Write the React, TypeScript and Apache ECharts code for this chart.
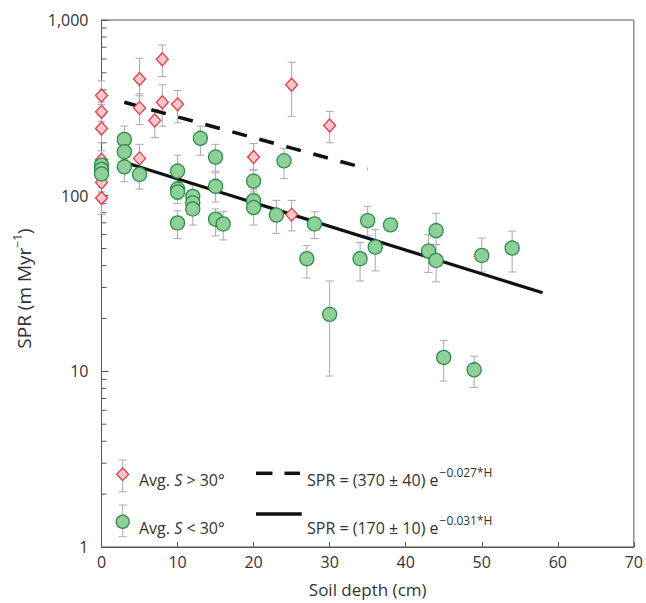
import React, { useEffect, useRef } from "react";
import * as echarts from "echarts";

// ---- data ----
const steepX = [0, 0, 0, 0, 0, 0, 5, 5, 5, 7, 8, 8, 10, 20, 25, 25, 30];
const steepY = [372, 300, 241, 160, 119, 97, 461, 316, 163, 268, 598, 340, 331, 166, 428, 78, 251];
const steepLo = [330, 265, 200, 140, 105, 78, 370, 254, 141, 214, 477, 249, 260, 140, 283, 63, 200];
const steepHi = [450, 340, 285, 180, 135, 112, 606, 380, 196, 309, 721, 428, 397, 198, 575, 94, 302];

const gentleX = [0, 0, 0, 3, 3, 3, 5, 10, 10, 10, 10, 12, 12, 12, 13, 15, 15, 15, 16, 20, 20, 20, 23, 24, 27, 28, 30, 34, 35, 36, 38, 43, 44, 44, 45, 49, 50, 54];
const gentleY = [149, 141, 133, 209, 178, 146, 132, 138, 109, 105, 70, 99, 91, 84, 212, 166, 113, 73.5, 69, 121, 93.6, 85.6, 77.6, 158, 43.8, 69, 21.1, 43.8, 72.1, 51, 68.2, 48.4, 63.3, 42.8, 12, 10.2, 45.7, 50.3];
const gentleLo = [135, 128, 120, 185, 160, 120, 109, 118, 95, 90, 57, 85, 78, 68, 170, 138, 92, 59, 56, 105, 80, 68, 61, 125, 34, 57, 9.4, 32.7, 59, 37.3, 68.2, 36.5, 52.7, 32.3, 8.8, 8.1, 36.8, 36.8];
const gentleHi = [163, 155, 146, 249, 200, 170, 158, 170, 125, 120, 82, 115, 105, 100, 249, 196, 135, 84, 81, 140, 108, 100, 94, 185, 52, 81, 32.7, 54, 87, 64, 68.2, 60, 79.4, 52.7, 15, 12.2, 57.3, 62.8];

// fitted lines: end points
const steepFitX = [3, 35];
const steepFitY = [340, 142];
const gentleFitX = [3, 58];
const gentleFitY = [155, 28];

const xTicks = [0, 70, 10];
const yTickLabels: Record<number, string> = { 1: "1", 10: "10", 100: "100", 1000: "1,000" };
const minorTickValues = [2, 3, 4, 5, 6, 7, 8, 9, 20, 30, 40, 50, 60, 70, 80, 90, 200, 300, 400, 500, 600, 700, 800, 900];

const legendAvg = "Avg. ";
const legendSteepRel = " > 30°";
const legendGentleRel = " < 30°";
const fitSteepText = "SPR = (370 ± 40) e";
const fitSteepExp = "−0.027*H";
const fitGentleText = "SPR = (170 ± 10) e";
const fitGentleExp = "−0.031*H";

const FONT = "'Open Sans', 'Noto Sans', sans-serif";
const TXT = "#333";
const ERR = "#a9a9a9";
const RED = "#e23b4c";
const PINK = "#f7c7c8";
const GREEN_EDGE = "#2e8c48";
const GREEN_FILL = "#8ecf9a";

function measure(text: string, size: number, italic = false): number {
  const c = document.createElement("canvas").getContext("2d");
  if (!c) return text.length * size * 0.55;
  c.font = `${italic ? "italic " : ""}${size}px ${FONT}`;
  return c.measureText(text).width;
}

function errRender(params: any, api: any) {
  const x = api.value(0);
  const lo = api.value(1);
  const hi = api.value(2);
  const a = api.coord([x, lo]);
  const b = api.coord([x, hi]);
  const w = 4;
  const st = { stroke: ERR, lineWidth: 1, fill: null };
  return {
    type: "group",
    children: [
      { type: "line", shape: { x1: a[0], y1: a[1], x2: b[0], y2: b[1] }, style: st },
      { type: "line", shape: { x1: a[0] - w, y1: a[1], x2: a[0] + w, y2: a[1] }, style: st },
      { type: "line", shape: { x1: b[0] - w, y1: b[1], x2: b[0] + w, y2: b[1] }, style: st },
    ],
  };
}

function minorRender(params: any, api: any) {
  const p = api.coord([0, api.value(1)]);
  return {
    type: "line",
    shape: { x1: p[0], y1: p[1], x2: p[0] + 5, y2: p[1] },
    style: { stroke: "#555", lineWidth: 1 },
  };
}

export default function App() {
  const ref = useRef<HTMLDivElement>(null);
  useEffect(() => {
    if (!ref.current) return;
    const chart = echarts.init(ref.current, undefined, { renderer: "svg" });

    const steepPts = steepX.map((x, i) => [x, steepY[i]]);
    const gentlePts = gentleX.map((x, i) => [x, gentleY[i]]);
    const steepErr = steepX.map((x, i) => [x, steepLo[i], steepHi[i]]);
    const gentleErr = gentleX.map((x, i) => [x, gentleLo[i], gentleHi[i]]);

    const txt = (x: number, y: number, text: string, size: number, italic = false) => ({
      type: "text", x, y,
      style: {
        text, fontSize: size, fontFamily: FONT, fill: TXT,
        fontStyle: italic ? "italic" : "normal",
        align: "left", verticalAlign: "middle",
        textAlign: "left", textVerticalAlign: "middle",
      },
    });

    const ax = 139;
    const wAvg = measure(legendAvg, 16);
    const wS = measure("S", 16, true);
    const fx = 307;
    const w1 = measure(fitSteepText, 16);
    const w2 = measure(fitGentleText, 16);

    const lx = 122.7;
    const legend = [
      // steep legend marker
      { type: "line", shape: { x1: lx, y1: 460, x2: lx, y2: 491.7 }, style: { stroke: ERR, lineWidth: 1 } },
      { type: "line", shape: { x1: lx - 4, y1: 460, x2: lx + 4, y2: 460 }, style: { stroke: ERR, lineWidth: 1 } },
      { type: "line", shape: { x1: lx - 4, y1: 491.7, x2: lx + 4, y2: 491.7 }, style: { stroke: ERR, lineWidth: 1 } },
      {
        type: "polygon",
        shape: { points: [[lx, 468], [lx + 6, 474.3], [lx, 480.6], [lx - 6, 474.3]] },
        style: { fill: PINK, stroke: RED, lineWidth: 1.3 },
      },
      txt(ax, 480, legendAvg, 16),
      txt(ax + wAvg, 480, "S", 16, true),
      txt(ax + wAvg + wS, 480, legendSteepRel, 16),
      { type: "line", shape: { x1: 256, y1: 473.3, x2: 272.5, y2: 473.3 }, style: { stroke: "#111", lineWidth: 3.5 } },
      { type: "line", shape: { x1: 284.5, y1: 473.3, x2: 300, y2: 473.3 }, style: { stroke: "#111", lineWidth: 3.5 } },
      txt(fx, 480, fitSteepText, 16),
      txt(fx + w1 + 1, 472, fitSteepExp, 12),
      // gentle legend marker
      { type: "line", shape: { x1: lx, y1: 505, x2: lx, y2: 536.7 }, style: { stroke: ERR, lineWidth: 1 } },
      { type: "line", shape: { x1: lx - 4, y1: 505, x2: lx + 4, y2: 505 }, style: { stroke: ERR, lineWidth: 1 } },
      { type: "line", shape: { x1: lx - 4, y1: 536.7, x2: lx + 4, y2: 536.7 }, style: { stroke: ERR, lineWidth: 1 } },
      {
        type: "circle", shape: { cx: lx, cy: 521.7, r: 6.5 },
        style: { fill: GREEN_FILL, stroke: GREEN_EDGE, lineWidth: 1.3 },
      },
      txt(ax, 528, legendAvg, 16),
      txt(ax + wAvg, 528, "S", 16, true),
      txt(ax + wAvg + wS, 528, legendGentleRel, 16),
      { type: "line", shape: { x1: 256, y1: 514, x2: 301.7, y2: 514 }, style: { stroke: "#111", lineWidth: 3.5 } },
      txt(fx, 528, fitGentleText, 16),
      txt(fx + w2 + 1, 520, fitGentleExp, 12),
    ];

    chart.setOption({
      animation: false,
      backgroundColor: "#fff",
      textStyle: { fontFamily: FONT },
      grid: {
        left: 101.5, right: 9.5, top: 20, bottom: 53,
        show: true, borderColor: "#555", borderWidth: 1,
      },
      xAxis: {
        type: "value",
        min: xTicks[0], max: xTicks[1], interval: xTicks[2],
        splitLine: { show: false },
        axisLine: { lineStyle: { color: "#555" } },
        axisTick: { inside: true, length: 5, lineStyle: { color: "#555" } },
        axisLabel: { color: TXT, fontSize: 16, fontFamily: FONT, margin: 7 },
        name: "Soil depth (cm)",
        nameLocation: "middle",
        nameGap: 34,
        nameTextStyle: { color: TXT, fontSize: 17, fontFamily: FONT },
      },
      yAxis: {
        type: "log", logBase: 10, min: 1, max: 1000,
        splitLine: { show: false },
        axisLine: { lineStyle: { color: "#555" } },
        axisTick: { inside: true, length: 7, lineStyle: { color: "#555" } },
        axisLabel: {
          color: TXT, fontSize: 16, fontFamily: FONT, margin: 13,
          formatter: (v: number) => yTickLabels[Math.round(v)] ?? String(v),
        },
        name: "{a|SPR (m Myr}{s|−1}{a|)}",
        nameLocation: "middle",
        nameGap: 66,
        nameTextStyle: {
          padding: [0, 10, 0, 0],
          rich: {
            a: { fontSize: 19, fontFamily: FONT, color: TXT },
            s: { fontSize: 12, fontFamily: FONT, color: TXT, padding: [0, 0, 12, 0] },
          },
        },
      },
      graphic: legend,
      series: [
        {
          type: "custom", name: "minor", renderItem: minorRender,
          data: minorTickValues.map((v) => [0, v]),
          encode: { x: 0, y: 1 }, silent: true, clip: false, z: 1,
        },
        {
          type: "custom", name: "errSteep", renderItem: errRender,
          data: steepErr, encode: { x: 0, y: [1, 2] }, silent: true, z: 2,
        },
        {
          type: "custom", name: "errGentle", renderItem: errRender,
          data: gentleErr, encode: { x: 0, y: [1, 2] }, silent: true, z: 2,
        },
        {
          type: "line", name: "fitSteep",
          data: steepFitX.map((x, i) => [x, steepFitY[i]]),
          showSymbol: false, symbol: "none",
          lineStyle: { color: "#111", width: 3.5, type: [15, 13] },
          z: 3,
        },
        {
          type: "line", name: "fitGentle",
          data: gentleFitX.map((x, i) => [x, gentleFitY[i]]),
          showSymbol: false, symbol: "none",
          lineStyle: { color: "#111", width: 3.2 },
          z: 3,
        },
        {
          type: "scatter", name: "Avg. S > 30°", data: steepPts,
          symbol: "diamond", symbolSize: [12, 13],
          itemStyle: { color: PINK, borderColor: RED, borderWidth: 1.3, opacity: 1 },
          z: 4,
        },
        {
          type: "scatter", name: "Avg. S < 30°", data: gentlePts,
          symbol: "circle", symbolSize: 14,
          itemStyle: { color: GREEN_FILL, borderColor: GREEN_EDGE, borderWidth: 1.3, opacity: 1 },
          z: 5,
        },
      ],
    });
    return () => chart.dispose();
  }, []);
  return (
    <div
      ref={ref}
      style={{ position: "fixed", left: 0, top: 0, width: 646, height: 603 }}
    />
  );
}
